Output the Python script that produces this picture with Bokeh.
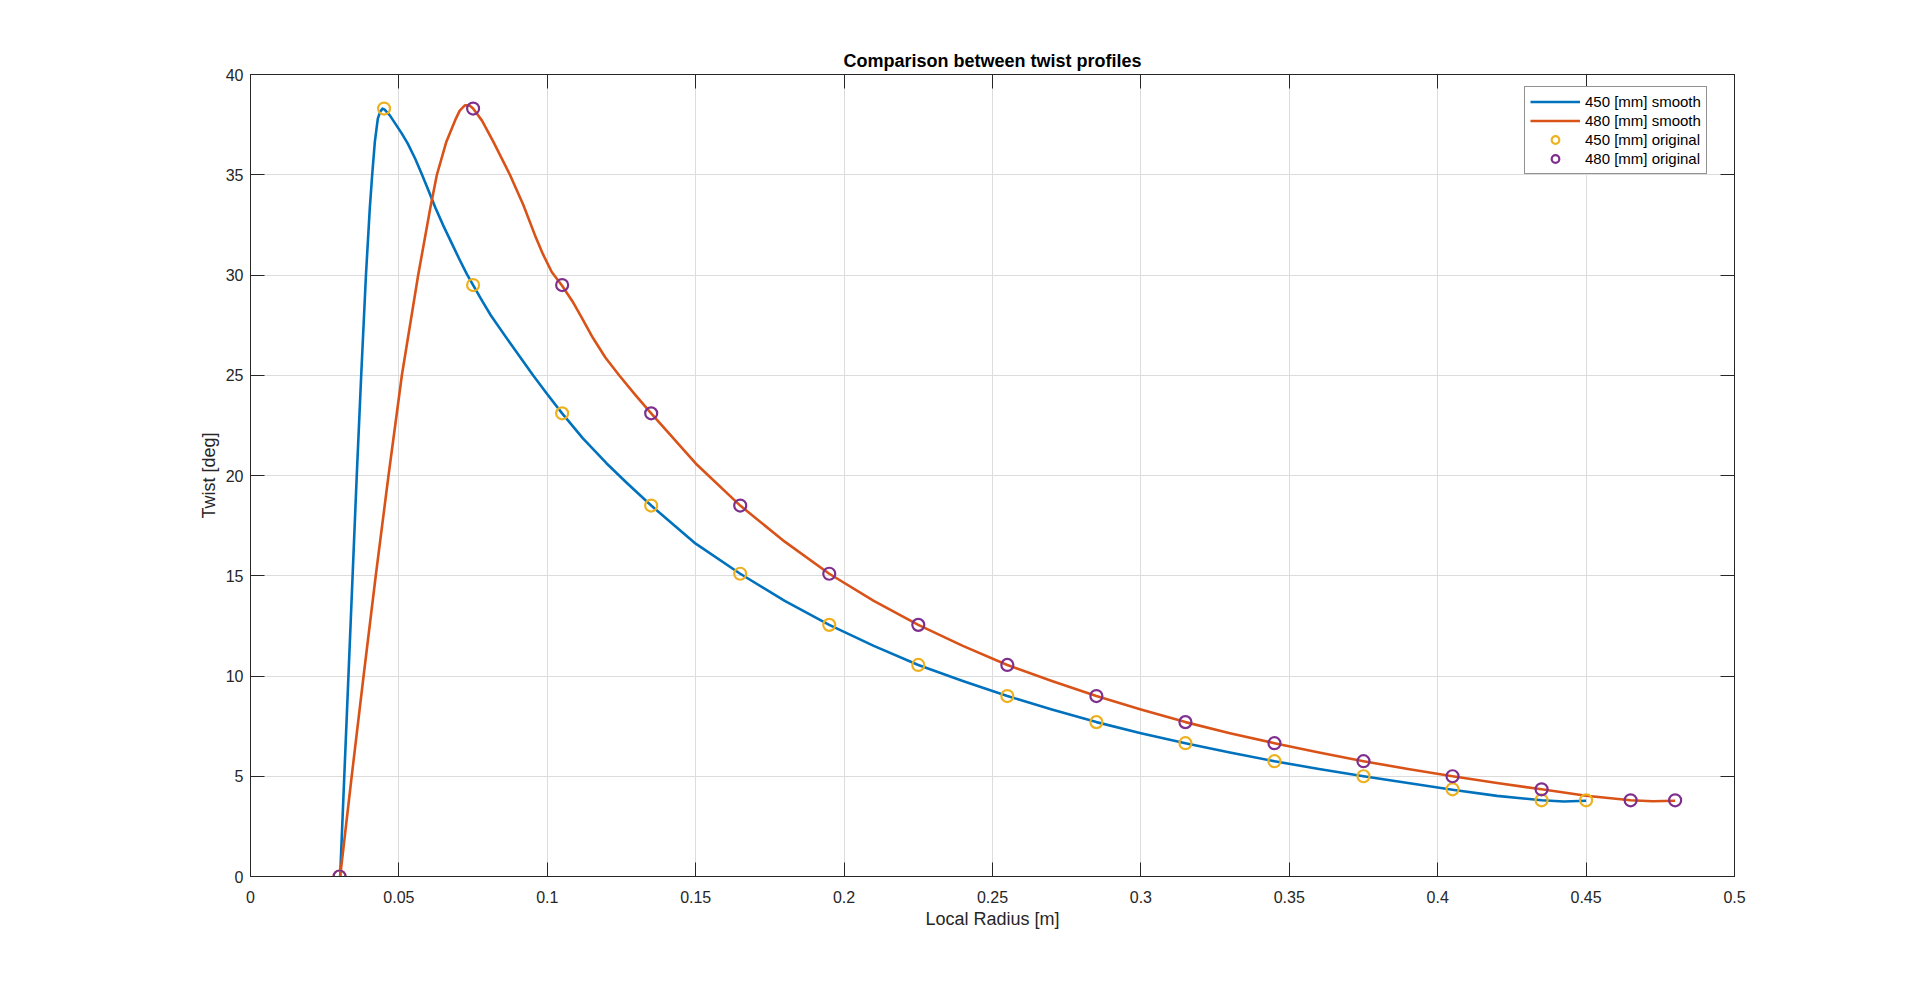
from bokeh.plotting import figure
from bokeh.models import (LinearAxis, Legend, LegendItem, FixedTicker,
                          CustomJSTickFormatter, Range1d, ColumnDataSource)
from bokeh.embed import file_html
from bokeh.resources import INLINE

# original stations (radius in m) and twist (deg)
r_450 = [0.03, 0.045, 0.075, 0.105, 0.135, 0.165, 0.195, 0.225, 0.255,
         0.285, 0.315, 0.345, 0.375, 0.405, 0.435, 0.45]
r_480 = [0.03, 0.075, 0.105, 0.135, 0.165, 0.195, 0.225, 0.255, 0.285,
         0.315, 0.345, 0.375, 0.405, 0.435, 0.465, 0.48]
twist_orig = [0, 38.3, 29.5, 23.1, 18.5, 15.1, 12.55, 10.55, 9.0,
              7.7, 6.65, 5.75, 5.0, 4.35, 3.8, 3.8]

# smooth profiles
r_450_smooth = [0.0302, 0.0316, 0.0330, 0.0344, 0.0358, 0.0373, 0.0389, 0.0402,
                0.0410, 0.0419, 0.0429, 0.0437, 0.0445, 0.0452, 0.0470, 0.0490,
                0.0510, 0.0530, 0.0555, 0.0578, 0.0600, 0.0623, 0.0650, 0.0679,
                0.0705, 0.0729, 0.075, 0.0780, 0.0810, 0.0874, 0.0952, 0.100,
                0.105, 0.112, 0.120, 0.127, 0.135, 0.150, 0.165, 0.180, 0.195,
                0.210, 0.225, 0.240, 0.255, 0.270, 0.285, 0.300, 0.315, 0.330,
                0.345, 0.360, 0.375, 0.390, 0.405, 0.420, 0.435, 0.4425, 0.45]
twist_450_smooth = [0, 5, 10, 15, 20, 25, 30, 33.35,
                    35, 36.65, 37.8, 38.15, 38.3, 38.25, 37.95, 37.5,
                    37.05, 36.55, 35.8, 35.0, 34.2, 33.35, 32.45, 31.55,
                    30.75, 30.04, 29.5, 28.72, 27.98, 26.62, 25.0, 24.05,
                    23.1, 21.85, 20.6, 19.6, 18.5, 16.6, 15.1, 13.75, 12.55,
                    11.5, 10.55, 9.75, 9.0, 8.33, 7.7, 7.15, 6.65, 6.18,
                    5.75, 5.36, 5.0, 4.66, 4.33, 4.02, 3.8, 3.74, 3.78]

r_480_smooth = [0.0302, 0.0341, 0.0381, 0.0422, 0.0465, 0.0510, 0.0565, 0.0606,
                0.0628, 0.0660, 0.0692, 0.0705, 0.0723, 0.0738, 0.075, 0.0780,
                0.0818, 0.0874, 0.0919, 0.0958, 0.0985, 0.1015, 0.105, 0.1085,
                0.1115, 0.1153, 0.1195, 0.1242, 0.1295, 0.135, 0.150, 0.165,
                0.180, 0.195, 0.210, 0.225, 0.240, 0.255, 0.270, 0.285, 0.300,
                0.315, 0.330, 0.345, 0.360, 0.375, 0.390, 0.405, 0.420, 0.435,
                0.450, 0.465, 0.4725, 0.48]
twist_480_smooth = [0, 5, 10, 15, 20, 25, 30, 33.35,
                    35, 36.65, 37.8, 38.2, 38.47, 38.45, 38.3, 37.7,
                    36.65, 35.0, 33.5, 32.0, 31.05, 30.15, 29.46, 28.68,
                    27.9, 26.88, 25.9, 25.0, 24.05, 23.1, 20.6, 18.5,
                    16.7, 15.1, 13.75, 12.55, 11.5, 10.55, 9.75, 9.0, 8.33,
                    7.7, 7.15, 6.65, 6.18, 5.75, 5.36, 5.0, 4.66, 4.35,
                    4.03, 3.8, 3.75, 3.78]

x_ticks = [0, 0.05, 0.1, 0.15, 0.2, 0.25, 0.3, 0.35, 0.4, 0.45, 0.5]
x_tick_labels = ["0", "0.05", "0.1", "0.15", "0.2", "0.25", "0.3", "0.35",
                 "0.4", "0.45", "0.5"]
y_ticks = [0, 5, 10, 15, 20, 25, 30, 35, 40]

FONT = "Liberation Sans"
AX = "#262626"

p = figure(width=1900, height=966, output_backend="svg", toolbar_location=None,
           x_range=Range1d(0, 0.5), y_range=Range1d(0, 40),
           min_border_left=250, min_border_right=166,
           min_border_top=74, min_border_bottom=90,
           title="Comparison between twist profiles")
p.outline_line_color = AX
p.background_fill_color = "white"
p.border_fill_color = "white"

p.title.align = "center"
p.title.text_font = FONT
p.title.text_font_size = "18px"
p.title.text_font_style = "bold"
p.title.text_color = "black"
p.title.standoff = 7

# box axes like matlab, ticks pointing in
p.add_layout(LinearAxis(), "above")
p.add_layout(LinearAxis(), "right")
for ax in p.xaxis + p.yaxis:
    ax.major_tick_in = 14
    ax.major_tick_out = 0
    ax.minor_tick_line_color = None
    ax.axis_line_color = AX
    ax.major_tick_line_color = AX
    ax.major_label_text_font = FONT
    ax.major_label_text_font_size = "16px"
    ax.major_label_text_color = AX
    ax.axis_label_text_font = FONT
    ax.axis_label_text_font_size = "18px"
    ax.axis_label_text_font_style = "normal"
    ax.axis_label_text_color = AX
for ax in p.xaxis:
    ax.ticker = FixedTicker(ticks=x_ticks)
for ax in p.yaxis:
    ax.ticker = FixedTicker(ticks=y_ticks)

p.below[0].major_label_overrides = dict(zip(x_ticks, x_tick_labels))
p.below[0].major_label_standoff = 14
p.below[0].axis_label = "Local Radius [m]"
p.below[0].axis_label_standoff = 3
p.left[0].major_label_standoff = 7
p.left[0].axis_label = "Twist [deg]"
p.left[0].axis_label_standoff = 4
for ax in (p.above[0], p.right[0]):
    ax.formatter = CustomJSTickFormatter(code="return ''")
    ax.major_label_standoff = 0

p.xgrid.ticker = FixedTicker(ticks=x_ticks)
p.ygrid.ticker = FixedTicker(ticks=y_ticks)
p.grid.grid_line_color = "#dcdcdc"
p.grid.grid_line_width = 1

blue, orange, yellow, purple = "#0072BD", "#D95319", "#EDB120", "#7E2F8E"

s450 = ColumnDataSource(dict(r=r_450_smooth, t=twist_450_smooth))
s480 = ColumnDataSource(dict(r=r_480_smooth, t=twist_480_smooth))
l1 = p.line("r", "t", source=s450, line_color=blue, line_width=2.6,
            line_join="round")
l2 = p.line("r", "t", source=s480, line_color=orange, line_width=2.6,
            line_join="round")
c1 = p.scatter(r_450, twist_orig, marker="circle", size=12, fill_color=None,
               line_color=yellow, line_width=2.2)
c2 = p.scatter(r_480, twist_orig, marker="circle", size=12, fill_color=None,
               line_color=purple, line_width=2.2)

legend = Legend(items=[LegendItem(label="450 [mm] smooth", renderers=[l1]),
                       LegendItem(label="480 [mm] smooth", renderers=[l2]),
                       LegendItem(label="450 [mm] original", renderers=[c1]),
                       LegendItem(label="480 [mm] original", renderers=[c2])],
                location=(1274, 702))
legend.margin = 0
legend.padding = 5
legend.spacing = 0
legend.label_height = 19
legend.glyph_height = 19
legend.glyph_width = 50
legend.label_standoff = 5
legend.label_text_font = FONT
legend.label_text_font_size = "15px"
legend.label_text_color = "black"
legend.border_line_color = AX
legend.border_line_width = 1
legend.background_fill_color = "white"
legend.background_fill_alpha = 1
p.add_layout(legend, "center")

open("out.html", "w").write(file_html(p, INLINE))
